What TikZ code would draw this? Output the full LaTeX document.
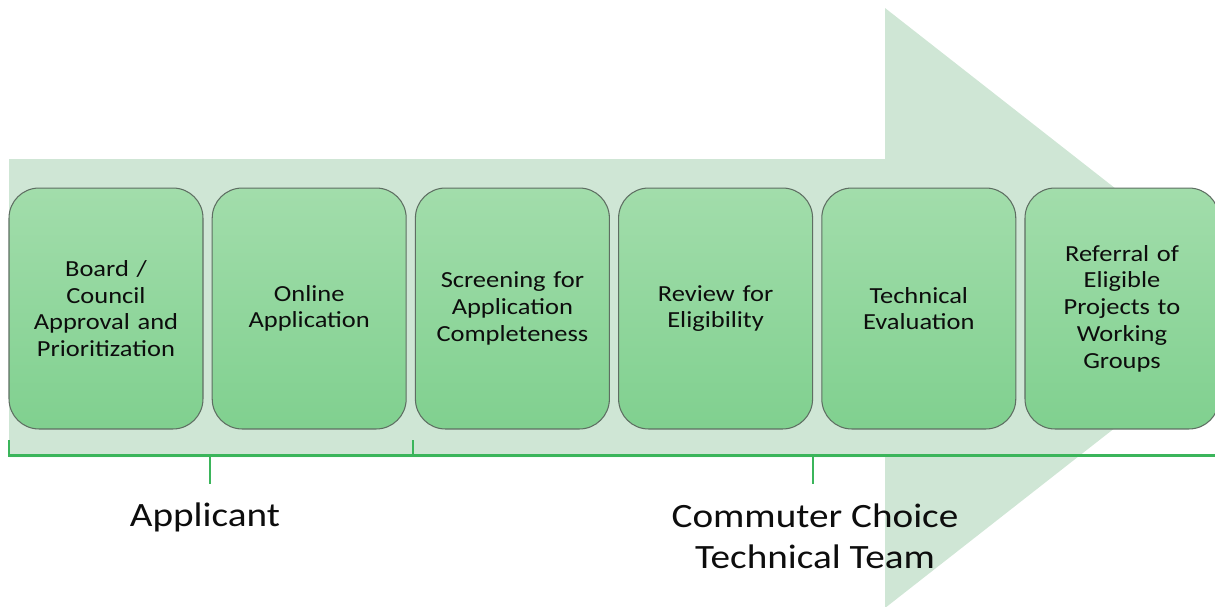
\documentclass[tikz,border=0pt]{standalone}
\usepackage{fontspec}
\setmainfont[FakeStretch=1.15]{Carlito}
\usepackage{tikz}

\definecolor{arrowgreen}{HTML}{CFE6D5}
\definecolor{boxtop}{HTML}{A2DDAB}
\definecolor{boxbottom}{HTML}{80D08F}
\definecolor{boxline}{HTML}{5E6E62}
\definecolor{bracegreen}{HTML}{3BB55B}

\begin{document}
\begin{tikzpicture}[x = .02cm, y = -.02cm,
  stage/.style = {rounded corners = .6cm, draw = boxline, line width = .6pt,
    top color = boxtop, bottom color = boxbottom,
    minimum width = 3.88cm, minimum height = 4.82cm, inner sep = 0pt,
    text width = 3.6cm, align = center, text = black!95,
    font = \fontsize{13.1}{15.2}\selectfont},
  group/.style = {align = center, text = black!95,
    font = \fontsize{19.4}{23.4}\selectfont},
  brace/.style = {draw = bracegreen, line width = 1.7pt}]
\useasboundingbox (0,0) rectangle (1215,606);
\clip (0,0) rectangle (1215,606);

% big background arrow
\fill[arrowgreen] (9,159) -- (885,159) -- (885,8) -- (1268,308) -- (885,608)
  -- (885,457) -- (9,457) -- cycle;

% process steps
\foreach \i/\txt in {1/{Board /\\Council\\Approval and\\Prioritization},
                     2/{Online\\Application},
                     3/{Screening for\\Application\\Completeness},
                     4/{Review for\\Eligibility},
                     5/{Technical\\Evaluation},
                     6/{Referral of\\Eligible\\Projects to\\Working\\Groups}}
  \node[stage] (s\i) at ({106 + (\i - 1)*203.2}, 308.5) {\txt};

% braces
\coordinate (bl) at (9,455);
\coordinate (bm) at (413,455);
\coordinate (br) at (1220,455);
\draw[brace] (9,440) -- (bl) -- (bm) -- (br);
\draw[brace] (bm) -- (413,440);
\draw[brace] (210,455) -- (210,484);
\draw[brace] (813,455) -- (813,484);

% group labels
\node[group, anchor = base] (applicant) at (205,526) {Applicant};
\node[group] (team) at (815,536) {Commuter Choice\\Technical Team};
\end{tikzpicture}
\end{document}
